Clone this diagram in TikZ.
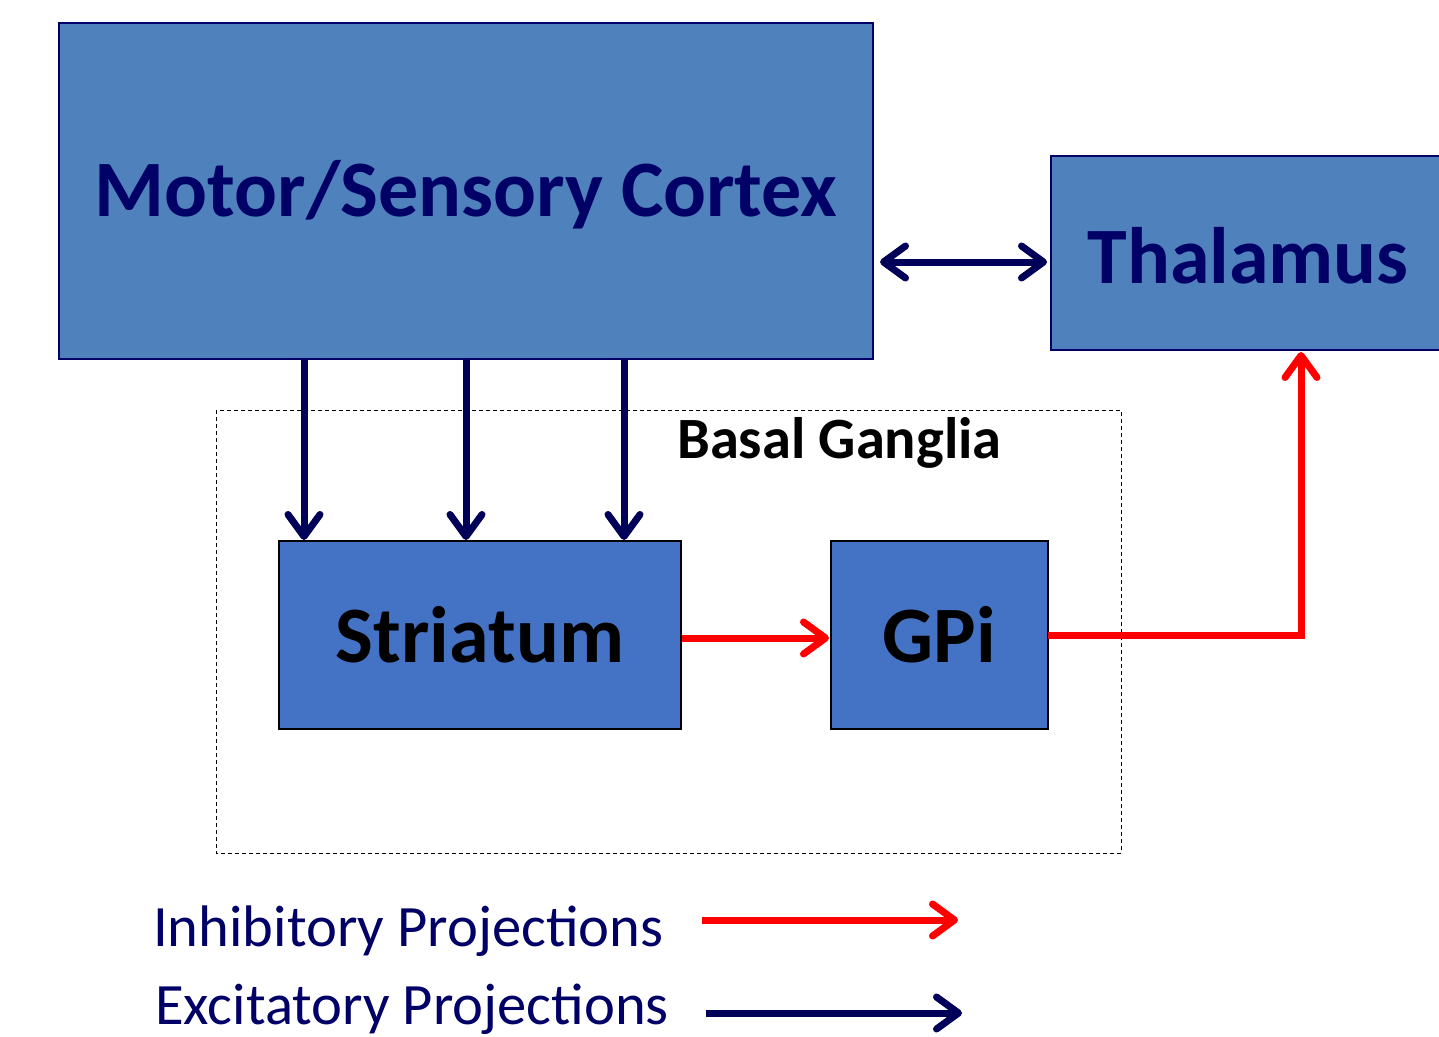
\documentclass[tikz,border=0pt]{standalone}
\usepackage{fontspec}
\setmainfont{Carlito}
\usetikzlibrary{arrows.meta}
\definecolor{cortexfill}{HTML}{4F81BD}
\definecolor{bgfill}{HTML}{4472C4}
\definecolor{navy}{HTML}{000058}
\definecolor{txtnavy}{HTML}{000066}
\definecolor{inhred}{HTML}{FF0000}
\tikzset{
  bigbox/.style={draw=txtnavy, line width=2pt, fill=cortexfill},
  bgbox/.style={draw=black, line width=1.2pt, fill=bgfill},
  barb/.tip={Straight Barb[length=22pt,width=32pt,line cap=round,line join=round]},
  excit/.style={draw=navy, line width=7pt, -barb},
  inhib/.style={draw=inhred, line width=7pt, -barb},
}
\begin{document}
\begin{tikzpicture}[x=1pt,y=-1pt]
\useasboundingbox (0,0) rectangle (1439,1036);
\begin{scope}
\clip (0,0) rectangle (1439,1036);
\draw[bigbox] (59,23) rectangle (873,359);
\draw[bigbox] (1051,156) rectangle (1450,350);
\end{scope}
\node[font=\bfseries\fontsize{80}{90}\selectfont, text=txtnavy, inner sep=0] (cortexlabel) at (466,195) {Motor/Sensory Cortex};
\node[font=\bfseries\fontsize{80}{90}\selectfont, text=txtnavy, inner sep=0] (thallabel) at (1248,256) {Thalamus};
\draw[black, line width=1pt, dash pattern=on 4pt off 3pt] (216,410) rectangle (1121,853);
\node[font=\bfseries\fontsize{58.5}{64}\selectfont, text=black, anchor=west, inner sep=0] (bglabel) at (677,443) {Basal Ganglia};
\node[bgbox, minimum width=402pt, minimum height=188pt, inner sep=0, font=\bfseries\fontsize{80}{90}\selectfont] (str) at (480,635) {Striatum};
\node[bgbox, minimum width=217pt, minimum height=188pt, inner sep=0, font=\bfseries\fontsize{80}{90}\selectfont] (gpi) at (939.5,635) {GPi};
\coordinate (c1) at (304,359);
\coordinate (c2) at (466,359);
\coordinate (c3) at (624,359);
\coordinate (s1) at (304,540);
\coordinate (s2) at (466,540);
\coordinate (s3) at (624,540);
\coordinate (cr) at (880,262);
\coordinate (tl) at (1047,262);
\coordinate (thb) at (1301,352);
\coordinate (gpo) at (1048,635);
\coordinate (sro) at (682,638);
\coordinate (gpin) at (829,638);
\draw[excit] (c1) -- (s1);
\draw[excit] (c2) -- (s2);
\draw[excit] (c3) -- (s3);
\draw[excit, barb-barb] (cr) -- (tl);
\draw[inhib] (sro) -- (gpin);
\draw[inhib] (gpo) -| (thb);
\node[font=\fontsize{58.6}{64}\selectfont, text=txtnavy, anchor=base west, inner sep=0] (leg1) at (153,946) {Inhibitory Projections};
\node[font=\fontsize{58.6}{64}\selectfont, text=txtnavy, anchor=base west, inner sep=0] (leg2) at (155,1024) {Excitatory Projections};
\coordinate (l1a) at (702,920);
\coordinate (l1b) at (958,920);
\coordinate (l2a) at (706,1013);
\coordinate (l2b) at (962,1013);
\draw[inhib] (l1a) -- (l1b);
\draw[excit] (l2a) -- (l2b);
\end{tikzpicture}
\end{document}
